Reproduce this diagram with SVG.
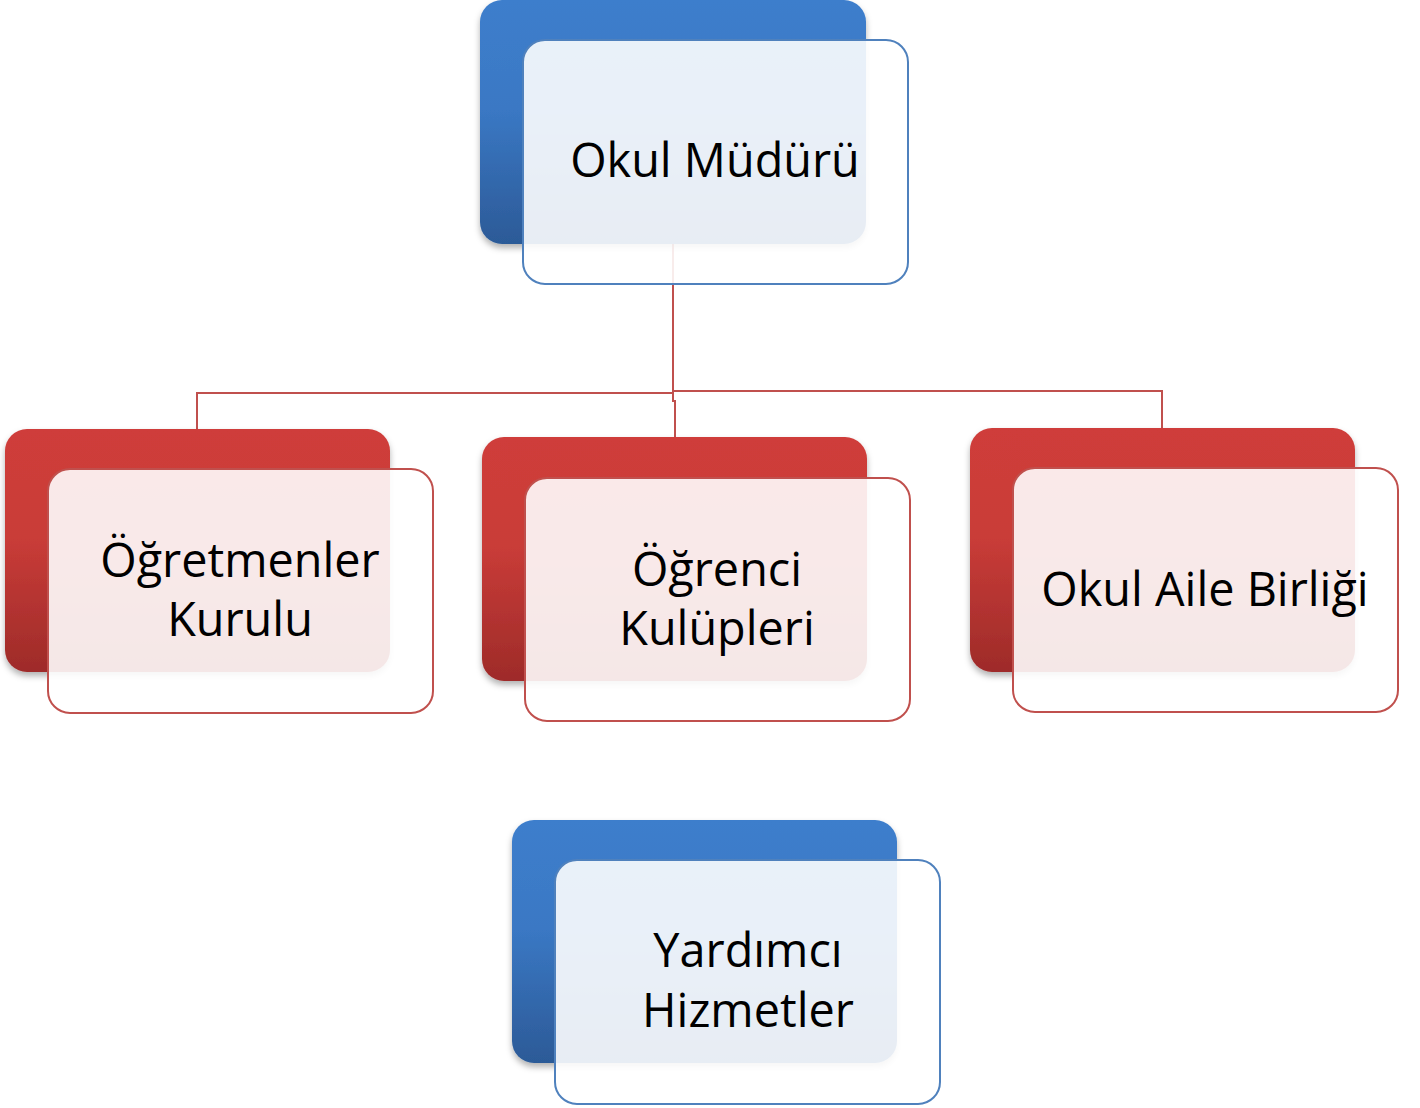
<svg xmlns="http://www.w3.org/2000/svg" width="1420" height="1108" viewBox="0 0 1420 1108">
<defs>
<linearGradient id="gBlue" x1="0" y1="0" x2="0" y2="1">
<stop offset="0" stop-color="#3D7ECC"/>
<stop offset="0.45" stop-color="#3A78C4"/>
<stop offset="1" stop-color="#2C5A97"/>
</linearGradient>
<linearGradient id="gRed" x1="0" y1="0" x2="0" y2="1">
<stop offset="0" stop-color="#CF3E3A"/>
<stop offset="0.45" stop-color="#C93C38"/>
<stop offset="1" stop-color="#9E2B29"/>
</linearGradient>
<filter id="sh" x="-10%" y="-10%" width="120%" height="125%">
<feDropShadow dx="0" dy="4" stdDeviation="3" flood-color="#000" flood-opacity="0.3"/>
</filter>
</defs>
<style>
.bb{fill:url(#gBlue);filter:url(#sh)}
.br{fill:url(#gRed);filter:url(#sh)}
.fb{fill:#FFFFFF;fill-opacity:0.89;stroke:#4F81BD;stroke-width:2}
.fr{fill:#FFFFFF;fill-opacity:0.89;stroke:#C0504D;stroke-width:2}
.t{font-family:"Open Sans","DejaVu Sans",sans-serif;font-size:46.8px;fill:#000;text-anchor:middle}
.c{fill:none;stroke:#C0504D;stroke-width:2}
</style>
<g id="connectors">
<path class="c" d="M673 244 V393 H197 V429"/>
<path class="c" d="M673 391 H1162 V428"/>
<path class="c" d="M673 393 V401 H675 V437"/>
</g>
<g id="node-okul-muduru">
<rect class="bb" x="480" y="0" width="386" height="244" rx="22"/>
<rect class="fb" x="523" y="40" width="385" height="244" rx="22"/>
<text class="t" x="715" y="177">Okul Müdürü</text>
</g>
<g id="node-ogretmenler-kurulu">
<rect class="br" x="5" y="429" width="385" height="243" rx="22"/>
<rect class="fr" x="48" y="469" width="385" height="244" rx="22"/>
<text class="t" x="240" y="577">Öğretmenler</text>
<text class="t" x="240" y="636">Kurulu</text>
</g>
<g id="node-ogrenci-kulupleri">
<rect class="br" x="482" y="437" width="385" height="244" rx="22"/>
<rect class="fr" x="525" y="478" width="385" height="243" rx="22"/>
<text class="t" x="717" y="586">Öğrenci</text>
<text class="t" x="717" y="645">Kulüpleri</text>
</g>
<g id="node-okul-aile-birligi">
<rect class="br" x="970" y="428" width="385" height="244" rx="22"/>
<rect class="fr" x="1013" y="468" width="385" height="244" rx="22"/>
<text class="t" x="1205" y="606">Okul Aile Birliği</text>
</g>
<g id="node-yardimci-hizmetler">
<rect class="bb" x="512" y="820" width="385" height="243" rx="22"/>
<rect class="fb" x="555" y="860" width="385" height="244" rx="22"/>
<text class="t" x="748" y="967">Yardımcı</text>
<text class="t" x="748" y="1027">Hizmetler</text>
</g>
</svg>
